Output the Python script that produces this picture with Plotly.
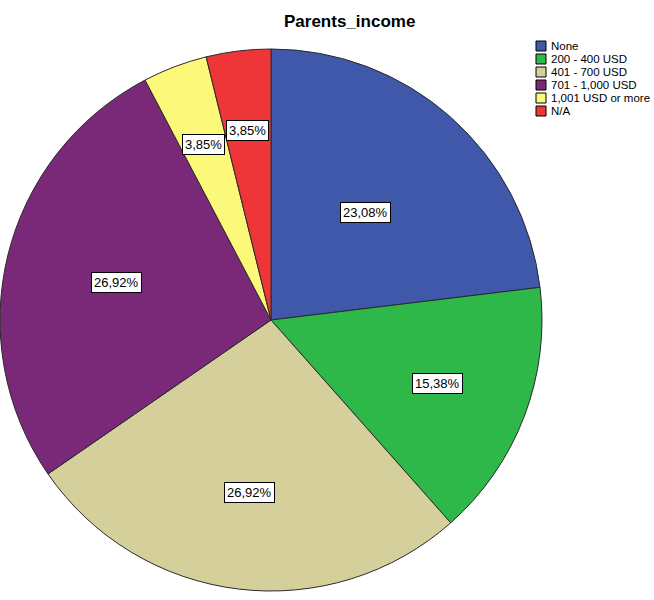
import math
import plotly.graph_objects as go

# Parents' monthly income, counts per category (n = 26)
categories = ["None", "200 - 400 USD", "401 - 700 USD", "701 - 1,000 USD",
              "1,001 USD or more", "N/A"]
counts = [6, 4, 7, 7, 1, 1]
colors = ["#3F58AA", "#2FB84A", "#D4CF9B", "#7A2878", "#FCF879", "#EE3639"]
# how far out (as a fraction of the radius) each percentage label sits
label_radius = [0.53, 0.66, 0.64, 0.58, 0.69, 0.70]

W, H = 654, 600
cx_px, cy_px, R_px = 270, 320, 272
FONT = "Liberation Sans, Arial"

fig = go.Figure(go.Pie(
    labels=categories,
    values=counts,
    sort=False,
    direction="clockwise",
    rotation=0,
    marker=dict(colors=colors, line=dict(color="#2a2a2a", width=1)),
    textinfo="none",
    hoverinfo="label+percent",
    showlegend=False,
    domain=dict(x=[max(0, (cx_px - R_px) / W), (cx_px + R_px) / W],
                y=[1 - (cy_px + R_px) / H, 1 - (cy_px - R_px) / H]),
))

# boxed percentage labels placed at each slice's mid-angle
total = sum(counts)
cum = 0
annotations = []
for c, f in zip(counts, label_radius):
    mid = (cum + c / 2) / total * 2 * math.pi
    cum += c
    px = cx_px + f * R_px * math.sin(mid)
    py = cy_px - f * R_px * math.cos(mid)
    pct = f"{100 * c / total:.2f}".replace(".", ",") + "%"
    annotations.append(dict(
        x=px / W, y=1 - py / H, xref="paper", yref="paper",
        xanchor="center", yanchor="middle",
        text=pct, showarrow=False,
        font=dict(family=FONT, size=13, color="black"),
        bgcolor="white", bordercolor="black", borderwidth=1, borderpad=2,
    ))

annotations.append(dict(
    x=349 / W, y=1 - 21 / H, xref="paper", yref="paper",
    xanchor="center", yanchor="middle",
    text="<b>Parents_income</b>", showarrow=False,
    font=dict(family=FONT, size=17, color="black"),
))

# compact legend: square swatches with category names
shapes = []
leg_x, leg_y, step, box = 536, 41, 13, 10
for i, (name, col) in enumerate(zip(categories, colors)):
    top = leg_y + i * step
    shapes.append(dict(
        type="rect", xref="paper", yref="paper",
        x0=leg_x / W, x1=(leg_x + box) / W,
        y0=1 - (top + box) / H, y1=1 - top / H,
        fillcolor=col, line=dict(color="black", width=1),
    ))
    annotations.append(dict(
        x=(leg_x + box + 3) / W, y=1 - (top + box / 2) / H,
        xref="paper", yref="paper", xanchor="left", yanchor="middle",
        text=name, showarrow=False,
        font=dict(family=FONT, size=11.5, color="black"),
    ))

fig.update_layout(
    width=W, height=H,
    margin=dict(l=0, r=0, t=0, b=0),
    paper_bgcolor="white",
    annotations=annotations,
    shapes=shapes,
    showlegend=False,
)

fig.write_html("out.html")
